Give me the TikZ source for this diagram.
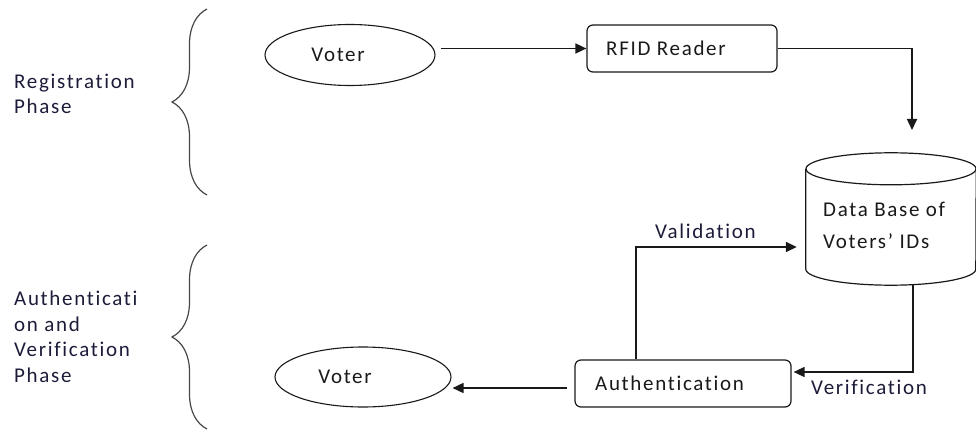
\documentclass[tikz,border=0pt]{standalone}
\usepackage{fontspec}
\setmainfont{Carlito}[LetterSpace=8, Ligatures={NoCommon}]
\usetikzlibrary{arrows.meta,decorations.pathreplacing,shapes.geometric}
\definecolor{ink}{RGB}{25,25,25}
\definecolor{lbl}{RGB}{28,28,58}
\begin{document}
\begin{tikzpicture}[x=1pt,y=-1pt,
  every node/.style={font=\fontsize{21}{25.5}\selectfont, text=ink},
  arr/.style={draw=ink, line width=1.6pt, -{Triangle[length=11pt,width=10pt]}},
  voterel/.style={draw=ink, line width=1.1pt, ellipse, inner sep=0pt},
  procbox/.style={draw=ink, line width=1.2pt, rounded corners=6pt, inner sep=0pt},
  phase/.style={align=left, anchor=base west, inner sep=0pt, text=lbl},
  flowlbl/.style={inner sep=0pt, text=lbl},
  bracestyle/.style={draw=ink!80, line width=1.2pt, decorate, decoration={brace, amplitude=35pt, aspect=0.5}}
]
\useasboundingbox (0,0) rectangle (976,430);

% phase labels (base anchor = last line)
\node[phase] (regl) at (14,114) {Registration\\Phase};
\node[phase] (authl) at (14,382) {Authenticati\\on and\\Verification\\Phase};

% braces
\draw[bracestyle] (207,195) -- (207,9);
\draw[bracestyle] (207,429) -- (207,245);

% nodes
\node[voterel, minimum width=170pt, minimum height=61pt] (voter1) at (350,55) {};
\node[inner sep=0pt] (voter1t) at (338,55) {Voter};
\node[procbox, minimum width=190pt, minimum height=47pt] (rfid) at (682,48.5) {};
\node[inner sep=0pt, anchor=west] (rfidt) at (606,48.5) {RFID Reader};

% database cylinder
\node[minimum width=170pt, minimum height=100pt, inner sep=0pt] (db) at (891,219) {};
\draw[draw=ink, line width=1.2pt]
  (db.north west) -- (db.south west)
  arc[start angle=180, end angle=360, x radius=85pt, y radius=16pt]
  -- (db.north east);
\draw[draw=ink, line width=1.2pt] (db.north) ellipse[x radius=85pt, y radius=16pt];
\node[inner sep=0pt, align=left, anchor=west, font=\fontsize{21}{32}\selectfont] (dbt) at (823,225) {Data Base of\\Voters' IDs};

\node[procbox, minimum width=216pt, minimum height=47pt] (auth) at (683,383.5) {};
\node[inner sep=0pt, anchor=west] (autht) at (595,383.5) {Authentication};

\node[voterel, minimum width=176pt, minimum height=60pt] (voter2) at (363,377) {};
\node[inner sep=0pt] (voter2t) at (345,377) {Voter};

% coordinates
\coordinate (dbin) at (912,130);
\coordinate (dbout) at (913,284.5);
\coordinate (authw) at ([yshift=-4.5pt]auth.west);

% connectors
\draw[arr] ([xshift=5pt]voter1.east |- rfid.west) -- (rfid.west);
\draw[arr] (rfid.east) -| (dbin);
\draw[arr] (dbout) |- ([xshift=2pt,yshift=11.5pt]auth.east);
\draw[arr] ([xshift=-47pt]auth.north) |- ([xshift=-9pt,yshift=-28pt]db.west);
\draw[arr] ([xshift=-7pt]authw) -- ([xshift=1pt]voter2.east |- authw);

% flow labels
\node[flowlbl, anchor=base west] (vall) at (655,239) {Validation};
\node[flowlbl, anchor=base west] (verl) at (811,394) {Verification};
\end{tikzpicture}
\end{document}
